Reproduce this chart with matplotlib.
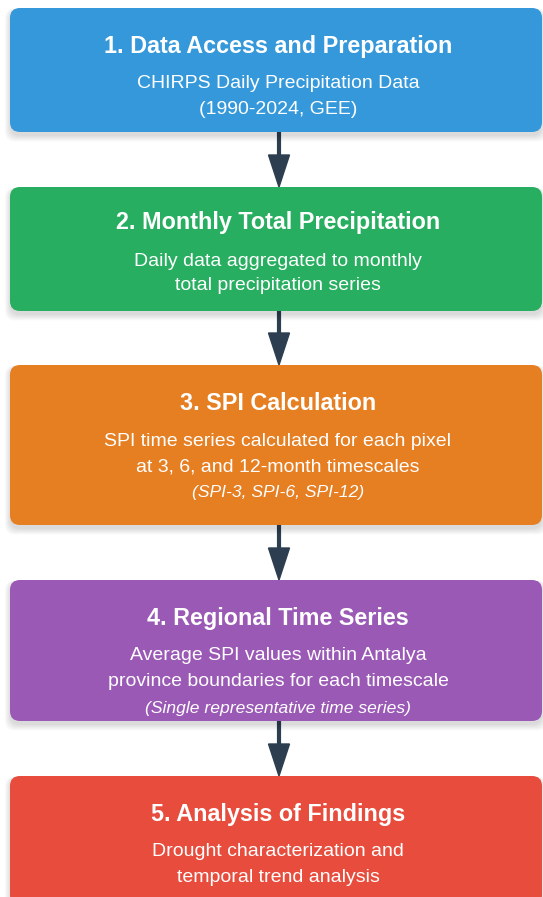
import matplotlib.pyplot as plt
from matplotlib.patches import FancyBboxPatch

# ==============================
# Flowchart content
# ==============================
titles = [
    "1. Data Access and Preparation",
    "2. Monthly Total Precipitation",
    "3. SPI Calculation",
    "4. Regional Time Series",
    "5. Analysis of Findings",
]
descriptions = [
    ["CHIRPS Daily Precipitation Data", "(1990-2024, GEE)"],
    ["Daily data aggregated to monthly", "total precipitation series"],
    ["SPI time series calculated for each pixel", "at 3, 6, and 12-month timescales"],
    ["Average SPI values within Antalya", "province boundaries for each timescale"],
    ["Drought characterization and", "temporal trend analysis"],
]
notes = ["", "", "(SPI-3, SPI-6, SPI-12)", "(Single representative time series)", ""]
colors = ["#3498db", "#27ae60", "#e67e22", "#9b59b6", "#e74c3c"]

# box layout in pixels (top, bottom)
box_top = [8, 187, 365, 580, 776]
box_bot = [132, 311, 525, 721, 905]
x0, x1 = 10, 542
title_off = [38, 36, 38, 38, 38]
line_gap = [25, 25, 26, 26, 26]

plt.rcParams['font.family'] = ['Liberation Sans', 'DejaVu Sans']

fig = plt.figure(figsize=(5.43, 8.97), dpi=100)
ax = fig.add_axes([0, 0, 1, 1])
ax.set_xlim(0, 543)
ax.set_ylim(897, 0)
ax.axis('off')

for i in range(len(titles)):
    top, bot = box_top[i], box_bot[i]
    r = 10
    # soft blurred shadow
    for k in range(6):
        sh = FancyBboxPatch((x0 + r - k, top + r + 2 - k * 0.3),
                            x1 - x0 - 2 * r + 2 * k, bot - top - 2 * r + 2 + k * 1.4,
                            boxstyle="round,pad=%d" % r, fc="black", ec="none",
                            alpha=0.025, zorder=1)
        ax.add_patch(sh)
    box = FancyBboxPatch((x0 + r, top + r), x1 - x0 - 2 * r, bot - top - 2 * r,
                         boxstyle="round,pad=%d" % r, fc=colors[i], ec="none", zorder=2)
    ax.add_patch(box)

    cx = 278
    ty = top + title_off[i]
    ax.text(cx, ty, titles[i], ha='center', va='center', color='white',
            fontsize=16.8, fontweight='bold', zorder=3)
    for j, line in enumerate(descriptions[i]):
        ax.text(cx, ty + 38 + j * line_gap[i], line, ha='center', va='center',
                color='white', fontsize=14, zorder=3)
    if notes[i]:
        ax.text(cx, ty + 38 + 2 * line_gap[i], notes[i], ha='center', va='center',
                color='white', fontsize=12.6, style='italic', zorder=3)

# arrows between boxes
arrow_x = 279
for i in range(len(titles) - 1):
    y_start = box_bot[i]
    y_end = box_top[i + 1]
    ax.plot([arrow_x, arrow_x], [y_start, y_end - 28], color="#2c3e50", lw=3,
            zorder=0, solid_capstyle='butt')
    ax.fill([arrow_x - 10.5, arrow_x + 10.5, arrow_x], [y_end - 32, y_end - 32, y_end],
            color="#2c3e50", zorder=0)

fig.savefig("out.png", dpi=100)
